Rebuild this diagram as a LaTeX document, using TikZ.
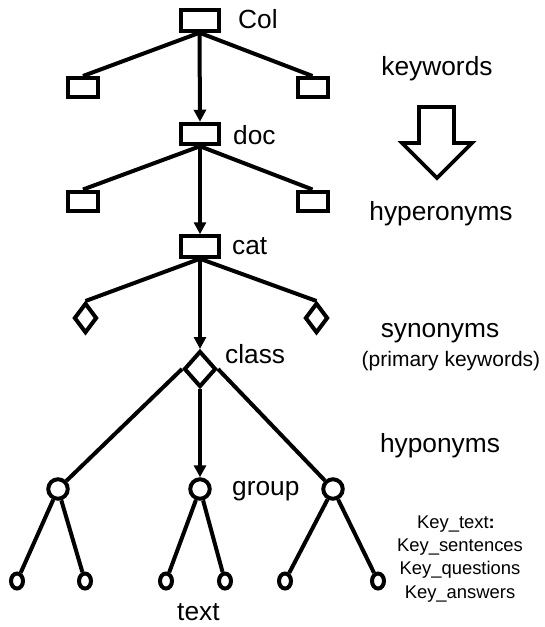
\documentclass[tikz,border=0pt]{standalone}
\usepackage{fontspec}
\setmainfont{Liberation Sans}
\usetikzlibrary{shapes.geometric,arrows.meta}
\begin{document}
\begin{tikzpicture}[x=1pt,y=-1pt,
  lw/.style={line width=4pt},
  box/.style={draw, lw, minimum width=38pt, minimum height=20.5pt, inner sep=0pt},
  sbox/.style={box, minimum width=30pt, minimum height=19pt},
  dia/.style={draw, diamond, lw, inner sep=0pt, minimum width=23pt, minimum height=30pt},
  bigdia/.style={dia, minimum width=32pt, minimum height=36pt},
  grp/.style={draw, circle, lw, minimum size=19.5pt, inner sep=0pt},
  leaf/.style={draw, ellipse, lw, minimum width=12pt, minimum height=15pt, inner sep=0pt},
  edge/.style={lw},
  down/.style={edge, -{Triangle[length=12pt,width=12pt]}},
  lbl/.style={font=\fontsize{26.3}{31}\selectfont, inner sep=0pt, anchor=base west},
  side/.style={font=\fontsize{26.3}{31}\selectfont, inner sep=0pt, anchor=base},
  note/.style={font=\fontsize{21}{25}\selectfont, inner sep=0pt, anchor=base},
  keyline/.style={font=\fontsize{18.4}{22}\selectfont, inner sep=0pt, anchor=base},
  block/.style={draw, line width=3.6pt, fill=white, line join=miter}]
\useasboundingbox (0,0) rectangle (544,627);

% collection level
\node[box]  (col) at (199.5,20.5) {};
\node[sbox] (k1)  at (83,87.5) {};
\node[sbox] (k2)  at (312.5,87.5) {};
% documents
\node[box]  (doc) at (200,134) {};
\node[sbox] (h1)  at (83,201) {};
\node[sbox] (h2)  at (312.5,201) {};
% categories
\node[box]  (cat) at (200,246.5) {};
\node[dia]  (s1)  at (85.5,318) {};
\node[dia]  (s2)  at (316.5,318) {};
% classes
\node[bigdia] (cls) at (200,369) {};
% groups
\node[grp] (g1) at (58,489) {};
\node[grp] (g2) at (200,489) {};
\node[grp] (g3) at (333,489) {};
% texts
\node[leaf] (t1) at (17,581) {};
\node[leaf] (t2) at (85,581) {};
\node[leaf] (t3) at (166,581) {};
\node[leaf] (t4) at (225,581) {};
\node[leaf] (t5) at (285,581) {};
\node[leaf] (t6) at (378,581) {};

% connectors
\draw[edge] (col.south) -- (k1.north);
\draw[edge] (col.south) -- (k2.north);
\draw[down] (col.south) -- (doc.north);
\draw[edge] (doc.south) -- (h1.north);
\draw[edge] (doc.south) -- (h2.north);
\draw[down] (doc.south) -- (cat.north);
\draw[edge] (cat.south) -- (s1.north);
\draw[edge] (cat.south) -- (s2.north);
\draw[down] (cat.south) -- (cls.north);
\draw[edge] (cls.west) -- (g1);
\draw[edge] (cls.east) -- (g3);
\draw[down] (cls.south) -- (g2.north);
\draw[edge] (g1) -- (t1);
\draw[edge] (g1) -- (t2);
\draw[edge] (g2) -- (t3);
\draw[edge] (g2) -- (t4);
\draw[edge] (g3) -- (t5);
\draw[edge] (g3) -- (t6);

% level labels
\node[lbl] (lcol) at (238,28) {Col};
\node[lbl] (ldoc) at (233,144) {doc};
\node[lbl] (lcat) at (232,254) {cat};
\node[lbl] (lcls) at (225,363) {class};
\node[lbl] (lgrp) at (232,495) {group};
\node[lbl] (ltxt) at (177,620) {text};

% right-hand column
\node[side] (kw)  at (437,75)  {keywords};
\draw[block] (419,107) -- (454,107) -- (454,143) -- (472,143) -- (437,178)
             -- (402,143) -- (419,143) -- cycle;
\node[side] (hyper) at (441,220) {hyperonyms};
\node[side] (syn)   at (440,337) {synonyms};
\node[note] (prim)  at (451,366) {(primary keywords)};
\node[side] (hypo)  at (440,452) {hyponyms};
\node[keyline] (kt) at (456,528) {Key\_text\textbf{:}};
\node[keyline] (ks) at (460,551) {Key\_sentences};
\node[keyline] (kq) at (460,574) {Key\_questions};
\node[keyline] (ka) at (460,598) {Key\_answers};
\end{tikzpicture}
\end{document}
